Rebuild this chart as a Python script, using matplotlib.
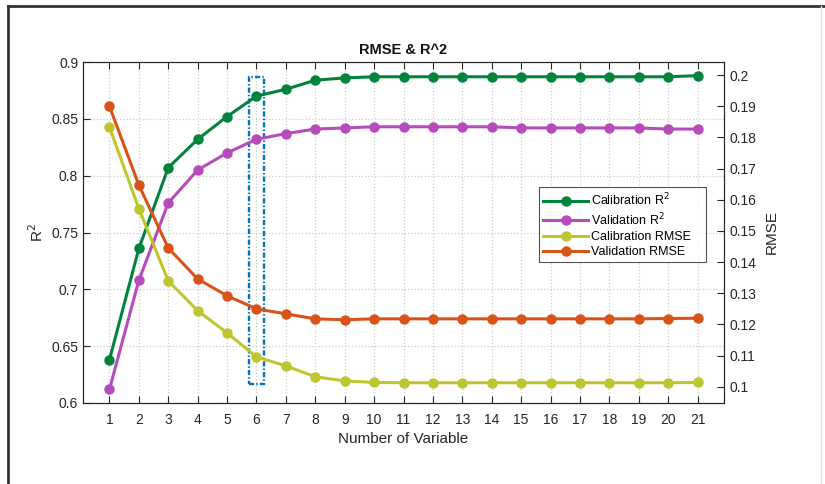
import matplotlib
matplotlib.use("Agg")
import matplotlib.pyplot as plt
from matplotlib.patches import Rectangle
from matplotlib.lines import Line2D

plt.rcParams['font.family'] = ['Liberation Sans', 'DejaVu Sans']

n_vars = list(range(1, 22))

cal_r2 = [0.638, 0.736, 0.807, 0.832, 0.852, 0.870, 0.876, 0.884, 0.886, 0.887,
          0.887, 0.887, 0.887, 0.887, 0.887, 0.887, 0.887, 0.887, 0.887, 0.887, 0.888]
val_r2 = [0.612, 0.708, 0.776, 0.805, 0.820, 0.832, 0.837, 0.841, 0.842, 0.843,
          0.843, 0.843, 0.843, 0.843, 0.842, 0.842, 0.842, 0.842, 0.842, 0.841, 0.841]
cal_rmse = [0.1833, 0.1571, 0.1340, 0.1244, 0.1173, 0.1096, 0.1067, 0.1032, 0.1019, 0.1014,
            0.1013, 0.1013, 0.1013, 0.1013, 0.1013, 0.1013, 0.1013, 0.1013, 0.1013, 0.1013, 0.1014]
val_rmse = [0.1900, 0.1647, 0.1445, 0.1346, 0.1292, 0.1250, 0.1234, 0.1218, 0.1215, 0.1218,
            0.1218, 0.1218, 0.1218, 0.1218, 0.1218, 0.1218, 0.1218, 0.1218, 0.1218, 0.1219, 0.1220]

labels = ['Calibration R$^2$', 'Validation R$^2$', 'Calibration RMSE', 'Validation RMSE']
colors = ['#00843D', '#B64CBC', '#BDC62E', '#D95319']

fig = plt.figure(figsize=(8.25, 4.84), dpi=100)
fig.patch.set_facecolor('white')

# outer frame
fig.add_artist(Line2D([8/825, 1.0], [1 - 6/484, 1 - 6/484], color='#333333', lw=2,
                      transform=fig.transFigure))
fig.add_artist(Line2D([8/825, 8/825], [0, 1 - 6/484], color='#333333', lw=2,
                      transform=fig.transFigure))
fig.add_artist(Line2D([821/825, 821/825], [0, 1 - 6/484], color='#dddddd', lw=1,
                      transform=fig.transFigure))

ax1 = fig.add_axes([83/825, 1 - 403/484, 641/825, 341/484])
ax2 = ax1.twinx()

lw, ms = 2.2, 6.5
h1, = ax1.plot(n_vars, cal_r2, '-o', color=colors[0], lw=lw, ms=ms, zorder=3)
h2, = ax1.plot(n_vars, val_r2, '-o', color=colors[1], lw=lw, ms=ms, zorder=3)
h3, = ax2.plot(n_vars, cal_rmse, '-o', color=colors[2], lw=lw, ms=ms, zorder=3)
h4, = ax2.plot(n_vars, val_rmse, '-o', color=colors[3], lw=lw, ms=ms, zorder=3)

# highlighted selection at 6 variables
ax1.add_patch(Rectangle((5.75, 0.617), 0.5, 0.270, fill=False,
                        ls=(0, (2.2, 0.9, 0.6, 0.9)),
                        lw=1.7, edgecolor='#0072BD', zorder=2))

ax1.set_xlim(0.1, 21.9)
ax1.set_ylim(0.6, 0.9)
ax2.set_ylim(0.0948, 0.2042)
ax1.set_xticks(n_vars)
ax1.set_yticks([0.6, 0.65, 0.7, 0.75, 0.8, 0.85, 0.9])
ax1.set_yticklabels(['0.6', '0.65', '0.7', '0.75', '0.8', '0.85', '0.9'])
rt = [0.1, 0.11, 0.12, 0.13, 0.14, 0.15, 0.16, 0.17, 0.18, 0.19, 0.2]
ax2.set_yticks(rt)
ax2.set_yticklabels(['0.1', '0.11', '0.12', '0.13', '0.14', '0.15', '0.16', '0.17', '0.18', '0.19', '0.2'])

ax1.grid(True, ls=':', color='#cccccc', lw=0.9)
ax1.set_axisbelow(True)

spine_c = '#262626'
for ax in (ax1, ax2):
    for s in ax.spines.values():
        s.set_color(spine_c)
        s.set_linewidth(0.8)
    ax.tick_params(direction='in', length=5, width=0.8, colors=spine_c,
                   labelsize=10, labelcolor='#262626')
ax1.tick_params(axis='x', top=True, pad=7)
ax1.tick_params(axis='y', right=False)
ax2.tick_params(axis='y', pad=4)

ax1.set_title('RMSE & R^2', fontsize=10.5, fontweight='bold', pad=6, color='#111111')
ax1.set_xlabel('Number of Variable', fontsize=11, color='#262626', labelpad=4)
ax1.set_ylabel('R$^2$', fontsize=11, color='#262626', labelpad=4)
ax2.set_ylabel('RMSE', fontsize=11, color='#262626', labelpad=6)

leg = ax2.legend([h1, h2, h3, h4], [l + '   ' for l in labels], loc='upper right',
                 bbox_to_anchor=(0.972, 0.633), borderaxespad=0, fontsize=9,
                 frameon=True, fancybox=False, handlelength=3.6, handletextpad=0.25,
                 labelspacing=0.25, borderpad=0.35)
leg.get_frame().set_edgecolor('#262626')
leg.get_frame().set_linewidth(0.8)

fig.savefig('out.png', dpi=100, facecolor='white')
